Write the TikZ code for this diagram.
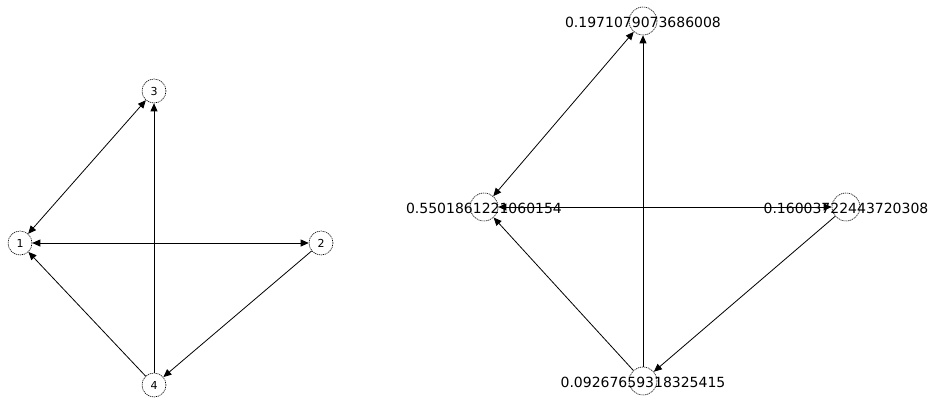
\documentclass[tikz,border=0pt]{standalone}
\usepackage{fontspec}
\setmainfont{DejaVu Sans}
\usetikzlibrary{arrows.meta}
\begin{document}
\begin{tikzpicture}[x=1pt,y=-1pt,
  vtx/.style={circle,draw=black,dash pattern=on 1.2pt off 0.8pt,line width=0.6pt,inner sep=0pt,minimum size=24pt,font=\fontsize{11}{11}\selectfont},
  bvtx/.style={vtx,minimum size=28pt},
  tip/.tip={Triangle[length=8pt,width=7pt]},
  edge/.style={draw=black,line width=0.8pt,-tip},
  bedge/.style={draw=black,line width=0.8pt,tip-tip},
  lbl/.style={font=\fontsize{14}{14}\selectfont,inner sep=0pt}]
\useasboundingbox (0,0) rectangle (930,400);
% left graph
\node[vtx] (n1) at (20,243) {1};
\node[vtx] (n2) at (321,243) {2};
\node[vtx] (n3) at (154,91) {3};
\node[vtx] (n4) at (154,385) {4};
\draw[bedge] (n1) -- (n3);
\draw[bedge] (n1) -- (n2);
\draw[edge] (n4) -- (n3);
\draw[edge] (n4) -- (n1);
\draw[edge] (n2) -- (n4);
% right graph
\node[bvtx,label={[lbl,yshift=-1pt]center:0.1971079073686008}] (t) at (643,21) {};
\node[bvtx,label={[lbl,yshift=-1pt]center:0.5501861221060154}] (l) at (484,207) {};
\node[bvtx,label={[lbl,yshift=-1pt]center:0.16003722443720308}] (r) at (846,207) {};
\node[bvtx,label={[lbl,yshift=-1pt]center:0.09267659318325415}] (b) at (643,381) {};
\draw[bedge] (l) -- (t);
\draw[bedge] (l) -- (r);
\draw[edge] (b) -- (t);
\draw[edge] (b) -- (l);
\draw[edge] (r) -- (b);
\end{tikzpicture}
\end{document}
